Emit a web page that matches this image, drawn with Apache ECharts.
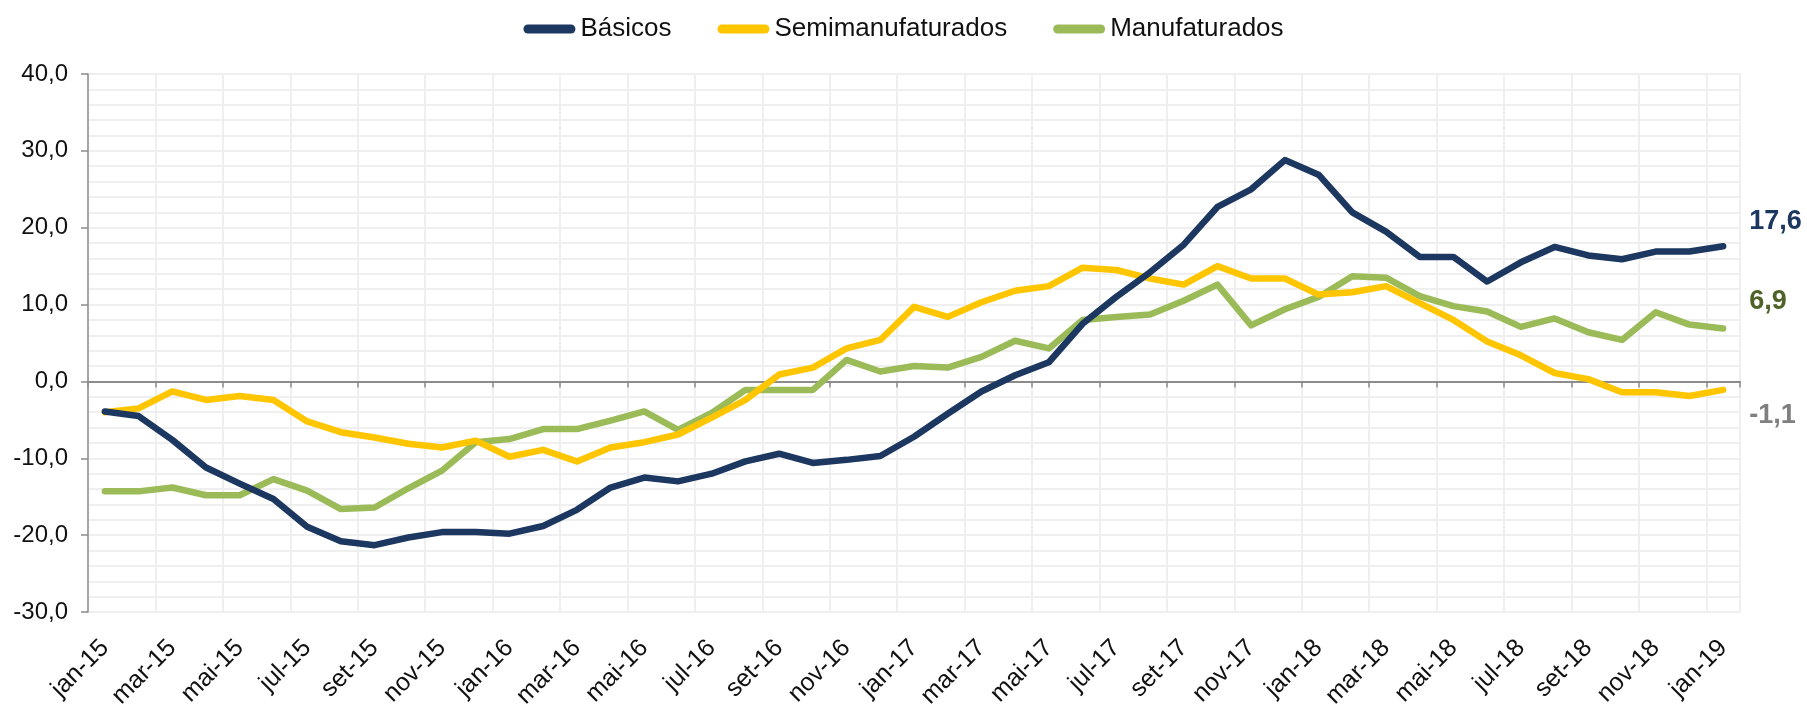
<!DOCTYPE html>
<html>
<head>
<meta charset="utf-8">
<script src="https://cdn.jsdelivr.net/npm/echarts@6/dist/echarts.min.js"></script>
<style>
  html, body { margin: 0; padding: 0; background: #fff; }
  #chart { width: 1807px; height: 711px; }
</style>
</head>
<body>
<div id="chart"></div>
<script>
const months = ["jan", "fev", "mar", "abr", "mai", "jun", "jul", "ago", "set", "out", "nov", "dez"];
const categories = [];
for (let y = 15; y <= 19; y++) {
  for (const m of months) {
    if (y === 19 && m !== "jan") break;
    categories.push(m + "-" + y);
  }
}

const basicos = [
  -3.9, -4.5, -7.6, -11.2, -13.3, -15.3, -18.9, -20.8, -21.3, -20.3, -19.6, -19.6,
  -19.8, -18.8, -16.7, -13.8, -12.5, -13.0, -12.0, -10.4, -9.4, -10.6, -10.2, -9.7,
  -7.2, -4.2, -1.3, 0.8, 2.5, 7.5, 11.0, 14.2, 17.8, 22.7, 25.0, 28.8,
  26.9, 22.0, 19.5, 16.2, 16.2, 13.0, 15.5, 17.5, 16.4, 15.9, 16.9, 16.9, 17.6
];
const semimanufaturados = [
  -4.0, -3.5, -1.3, -2.4, -1.9, -2.4, -5.2, -6.6, -7.3, -8.1, -8.6, -7.7,
  -9.8, -8.9, -10.4, -8.6, -7.9, -6.9, -4.7, -2.4, 0.9, 1.8, 4.3, 5.4,
  9.7, 8.4, 10.3, 11.8, 12.4, 14.8, 14.5, 13.4, 12.6, 15.0, 13.4, 13.4,
  11.3, 11.6, 12.4, 10.2, 8.0, 5.2, 3.4, 1.1, 0.3, -1.4, -1.4, -1.9, -1.1
];
const manufaturados = [
  -14.3, -14.3, -13.8, -14.8, -14.8, -12.7, -14.2, -16.6, -16.4, -13.9, -11.6, -7.9,
  -7.5, -6.2, -6.2, -5.1, -3.9, -6.3, -4.1, -1.1, -1.1, -1.1, 2.8, 1.3,
  2.0, 1.8, 3.2, 5.3, 4.3, 8.0, 8.4, 8.7, 10.5, 12.6, 7.3, 9.4,
  11.0, 13.7, 13.5, 11.1, 9.8, 9.1, 7.1, 8.2, 6.4, 5.4, 9.0, 7.4, 6.9
];

const FONT = '"Liberation Sans", Arial, sans-serif';
const fmt = (v) => v.toFixed(1).replace(".", ",");

const chart = echarts.init(document.getElementById("chart"));

function lineSeries(name, data, color, labelColor, labelDy) {
  return {
    name,
    type: "line",
    data,
    xAxisIndex: 0,
    showSymbol: false,
    symbol: "none",
    lineStyle: { width: 6.5, color, cap: "round", join: "round" },
    itemStyle: { color },
    emphasis: { disabled: true },
    endLabel: {
      show: true,
      formatter: (p) => fmt(p.value),
      color: labelColor,
      fontFamily: FONT,
      fontWeight: "bold",
      fontSize: 27,
      distance: 8,
      offset: [18, labelDy],
    },
  };
}

chart.setOption({
  animation: false,
  backgroundColor: "#ffffff",
  legend: {
    top: 11,
    left: "center",
    itemWidth: 52,
    itemHeight: 9,
    itemGap: 46,
    icon: "path://M4.5,0 H47.5 A4.5,4.5 0 0 1 47.5,9 H4.5 A4.5,4.5 0 0 1 4.5,0 Z",
    textStyle: { fontFamily: FONT, fontSize: 26, color: "#111" },
    data: ["Básicos", "Semimanufaturados", "Manufaturados"],
  },
  grid: { left: 88, right: 67, top: 74, bottom: 97, containLabel: false },
  xAxis: [
    {
      type: "category",
      data: categories,
      boundaryGap: true,
      axisLine: { onZero: true, lineStyle: { color: "#8c8c8c", width: 2 } },
      axisTick: { show: true, interval: 1, length: 6, lineStyle: { color: "#8c8c8c", width: 1.5 } },
      axisLabel: { show: false, interval: 1 },
      splitLine: { show: true, interval: 1, lineStyle: { color: "#efefef", width: 2 } },
    },
    {
      type: "category",
      data: categories,
      boundaryGap: true,
      position: "bottom",
      axisLine: { show: false, onZero: false },
      axisTick: { show: false },
      splitLine: { show: false },
      axisLabel: {
        interval: 1,
        rotate: 45,
        margin: 32,
        fontFamily: FONT,
        fontSize: 25,
        color: "#111",
      },
    },
  ],
  yAxis: {
    type: "value",
    min: -30,
    max: 40,
    interval: 10,
    axisLine: { show: true, lineStyle: { color: "#8c8c8c", width: 1.5 } },
    axisTick: { show: true, inside: false, length: 7, lineStyle: { color: "#8c8c8c", width: 1.5 } },
    axisLabel: {
      margin: 20,
      formatter: (v) => fmt(v),
      fontFamily: FONT,
      fontSize: 24,
      color: "#111",
    },
    splitLine: { show: true, lineStyle: { color: "#efefef", width: 2 } },
    minorTick: { show: false, splitNumber: 5 },
    minorSplitLine: { show: true, lineStyle: { color: "#efefef", width: 2 } },
  },
  series: [
    lineSeries("Manufaturados", manufaturados, "#9bbb59", "#4f6228", -27),
    lineSeries("Semimanufaturados", semimanufaturados, "#ffc600", "#7f7f7f", 26),
    lineSeries("Básicos", basicos, "#1c3760", "#1c3760", -25),
  ],
});
</script>
</body>
</html>
